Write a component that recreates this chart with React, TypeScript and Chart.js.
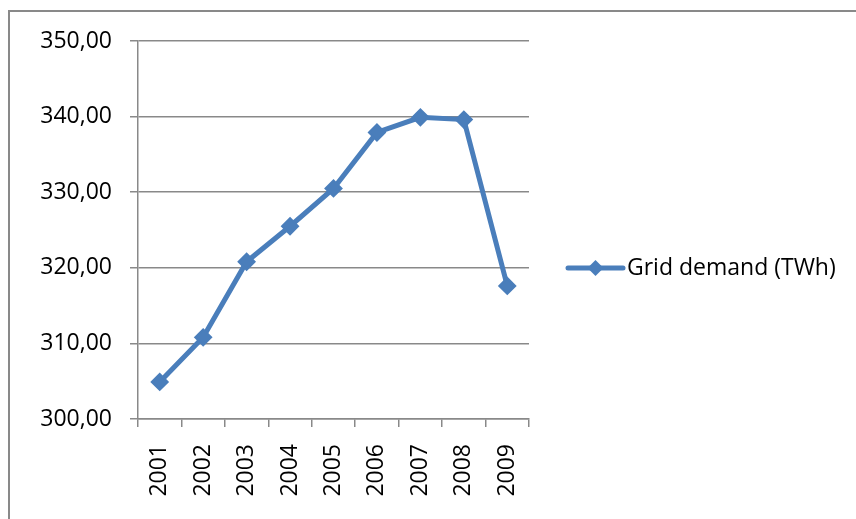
import React, { useEffect, useRef } from 'react';
import { Chart, registerables } from 'chart.js';

Chart.register(...registerables);

const categories: string[] = ['2001', '2002', '2003', '2004', '2005', '2006', '2007', '2008', '2009'];
const gridDemand: number[] = [304.9, 310.8, 320.8, 325.5, 330.5, 337.9, 339.9, 339.6, 317.6];
const seriesLabel = 'Grid demand (TWh)';
const yMin = 300;
const yMax = 350;
const yStep = 10;

const BLUE = '#4a7ebb';
const GRAY = '#898989';
const FONT = { family: "'Open Sans', 'DejaVu Sans', sans-serif", size: 23 };

const sideLegend = {
  id: 'sideLegend',
  afterDraw(chart: any) {
    const { ctx, chartArea } = chart;
    const ds = chart.data.datasets[0];
    const y = (chartArea.top + chartArea.bottom) / 2 + 38;
    const x0 = chartArea.right + 39;
    const x1 = x0 + 55;
    const xm = (x0 + x1) / 2;
    ctx.save();
    ctx.strokeStyle = ds.borderColor;
    ctx.lineWidth = 5;
    ctx.lineCap = 'round';
    ctx.beginPath();
    ctx.moveTo(x0, y);
    ctx.lineTo(x1, y);
    ctx.stroke();
    ctx.fillStyle = ds.borderColor;
    ctx.beginPath();
    const r = 8;
    ctx.moveTo(xm, y - r);
    ctx.lineTo(xm + r, y);
    ctx.lineTo(xm, y + r);
    ctx.lineTo(xm - r, y);
    ctx.closePath();
    ctx.fill();
    ctx.fillStyle = '#000';
    ctx.font = `${FONT.size}px ${FONT.family}`;
    ctx.textAlign = 'left';
    ctx.textBaseline = 'middle';
    ctx.fillText(ds.label, x1 + 4, y);
    ctx.restore();
  },
};

export default function App() {
  const ref = useRef<HTMLCanvasElement>(null);

  useEffect(() => {
    if (!ref.current) return;
    const chart = new Chart(ref.current, {
      type: 'line',
      data: {
        labels: categories,
        datasets: [
          {
            label: seriesLabel,
            data: gridDemand,
            borderColor: BLUE,
            backgroundColor: BLUE,
            borderWidth: 5,
            pointStyle: 'rectRot',
            pointRadius: 8,
            pointBorderWidth: 2,
            pointBackgroundColor: BLUE,
            pointBorderColor: BLUE,
            tension: 0,
          },
        ],
      },
      options: {
        responsive: false,
        animation: false,
        layout: { padding: { left: 0, top: 41, right: 327, bottom: 0 } },
        plugins: {
          legend: { display: false },
          tooltip: { enabled: false },
        },
        scales: {
          x: {
            type: 'category',
            offset: true,
            grid: {
              offset: true,
              drawOnChartArea: false,
              drawTicks: true,
              tickLength: 8,
              color: GRAY,
              lineWidth: 1.5,
            },
            border: { display: true, color: GRAY, width: 1.5 },
            ticks: {
              minRotation: 90,
              maxRotation: 90,
              padding: 17,
              color: '#000',
              font: FONT,
            },
            afterFit: (s: any) => {
              s.height = 100;
            },
          },
          y: {
            min: yMin,
            max: yMax,
            grid: {
              color: GRAY,
              lineWidth: 1.5,
              drawTicks: true,
              tickLength: 8,
            },
            border: { display: true, color: GRAY, width: 1.5 },
            ticks: {
              stepSize: yStep,
              padding: 18,
              color: '#000',
              font: FONT,
              callback: (v: any) => Number(v).toFixed(2).replace('.', ','),
            },
            afterFit: (s: any) => {
              s.width = 138;
            },
          },
        },
      },
      plugins: [sideLegend],
    });
    return () => chart.destroy();
  }, []);

  return (
    <div style={{ position: 'fixed', left: 0, top: 0, width: 856, height: 519, overflow: 'hidden', background: '#fff' }}>
      <div
        style={{
          position: 'absolute',
          left: 8,
          top: 10,
          width: 900,
          height: 600,
          border: `2px solid ${GRAY}`,
        }}
      />
      <canvas ref={ref} width={856} height={519} style={{ position: 'absolute', left: 0, top: 0 }} />
    </div>
  );
}
